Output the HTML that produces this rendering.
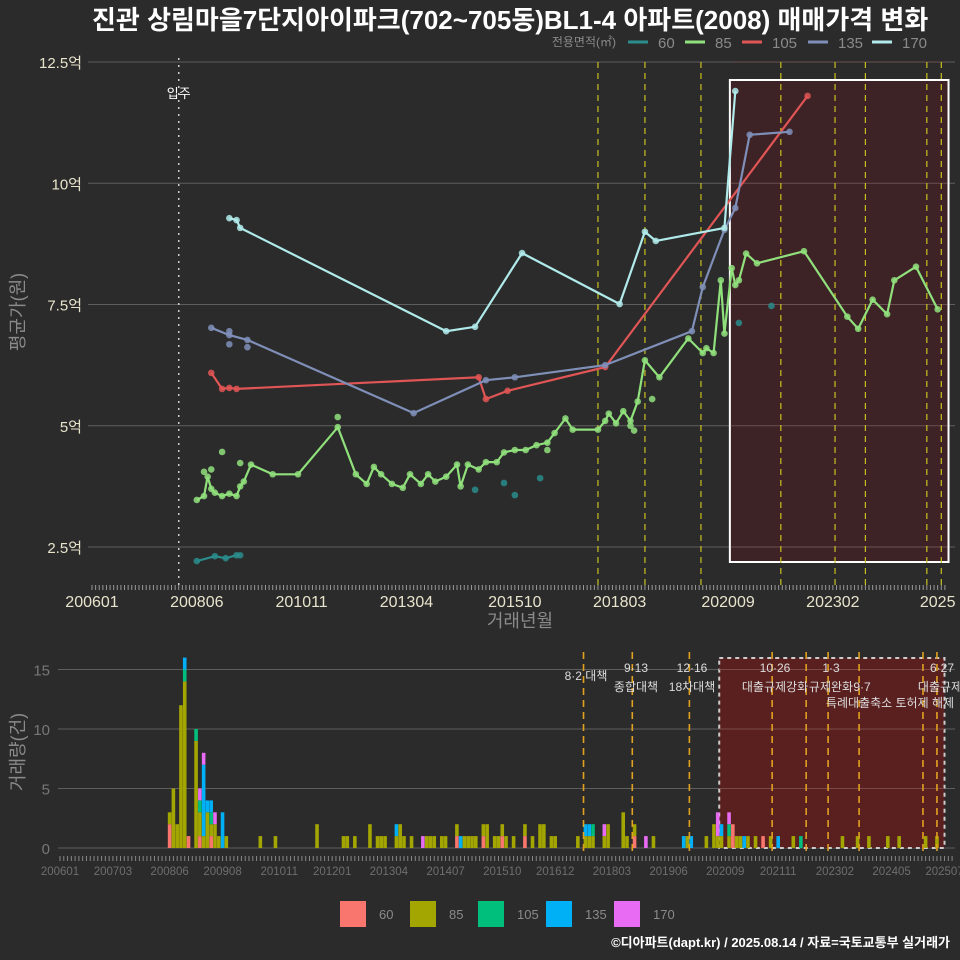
<!DOCTYPE html>
<html><head><meta charset="utf-8">
<style>
html,body{margin:0;padding:0;background:#2b2b2b;}
svg{display:block;font-family:"Liberation Sans","Noto Sans CJK KR",sans-serif;}
</style></head>
<body>
<svg id="chart" width="960" height="960" viewBox="0 0 960 960" xmlns="http://www.w3.org/2000/svg">
<rect x="0" y="0" width="960" height="960" fill="#2b2b2b"/>
<text x="92" y="29" fill="#ffffff" font-size="26" font-weight="bold">진관 상림마을7단지아이파크(702~705동)BL1-4 아파트(2008) 매매가격 변화</text>
<g id="topPanel"></g>
<g id="botPanel"></g>
<text x="950" y="947" fill="#ffffff" font-size="13" font-weight="bold" text-anchor="end">©디아파트(dapt.kr) / 2025.08.14 / 자료=국토교통부 실거래가</text>
</svg>
<script>
// month index = months since 2006-01
const types = ["60","85","105","135","170"];
const lineColors = ["#2a8c8c","#90e07c","#e05555","#7f8fb8","#b0eaea"];
const barColors = ["#F8766D","#A3A500","#00BF7D","#00B0F6","#E76BF3"];
const yTicks = [2.5,5,7.5,10,12.5];
const yTickLabels = ["2.5억","5억","7.5억","10억","12.5억"];
const xTickMonths = [0,29,58,87,117,146,176,205,234];
const xTickLabels = ["200601","200806","201011","201304","201510","201803","202009","202302","2025"];
const bxTickMonths = [0,14,29,43,58,72,87,102,117,131,146,161,176,190,205,220,234];
const bxTickLabels = ["200601","200703","200806","200908","201011","201201","201304","201407","201510","201612","201803","201906","202009","202111","202302","202405","202507"];
const countTicks = [0,5,10,15];
const moveInMonth = 24;
const topEvents = [140,153,168.5,190.6,205.6,214,231,235];
const botEvents = [138.5,151.4,166.5,188.4,197.4,203.2,211.4,228.3,232];
const boxStartTop = 176.5, boxEndTop = 237;
const boxStartBot = 174.4, boxEndBot = 234;
const s60m = [29,34,37,40,41];
const s60v = [2.21,2.31,2.27,2.33,2.33];
const s60xm = [106,114,117,124,179,188];
const s60xv = [3.68,3.82,3.57,3.92,7.12,7.47];
const s85m = [29,31,32,33,34,36,38,40,41,42,44,50,57,68,73,76,78,80,83,86,88,91,93,95,98,101,102,104,107,109,112,114,117,120,123,126,128,131,133,140,142,143,145,147,149,151,153,157,165,169,170,172,174,175,177,178,179,181,184,197,209,212,216,220,222,228,234];
const s85v = [3.47,3.55,3.95,3.70,3.62,3.55,3.60,3.55,3.75,3.85,4.2,4.0,4.0,4.97,4.0,3.8,4.15,4.0,3.8,3.72,4.0,3.8,4.0,3.85,3.95,4.2,3.75,4.2,4.1,4.25,4.25,4.45,4.5,4.5,4.6,4.65,4.85,5.15,4.92,4.92,5.1,5.25,5.05,5.3,5.1,5.5,6.35,6.0,6.8,6.5,6.6,6.5,8.0,6.9,8.25,7.9,8.0,8.55,8.35,8.6,7.25,7.0,7.6,7.3,8.0,8.28,7.4];
const s85xm = [31,33,36,41,68,126,149,150,155];
const s85xv = [4.05,4.1,4.46,4.23,5.18,4.5,5.0,4.9,5.55];
const s105m = [33,36,38,40,107,109,115,142,198];
const s105v = [6.09,5.76,5.78,5.76,6.0,5.55,5.72,6.21,11.8];
const s135m = [33,38,43,89,109,117,142,166,169,175,178,182,193];
const s135v = [7.02,6.87,6.77,5.26,5.94,6.0,6.25,6.95,7.86,9.04,9.49,11.0,11.06];
const s135xm = [38,43,38];
const s135xv = [6.68,6.62,6.95];
const s170m = [38,40,41,98,106,119,146,153,156,175,178];
const s170v = [9.28,9.24,9.08,6.95,7.04,8.56,7.51,9.0,8.81,9.08,11.9];
// bars: month, counts [60,85,105,135,170]
const barMonths = [29,30,31,32,33,34,36,37,38,39,40,41,42,43,44,53,57,68,75,76,78,82,84,85,86,89,90,91,93,96,97,98,99,101,102,105,106,107,108,109,110,112,113,115,116,117,118,120,123,125,127,128,130,131,137,139,140,141,144,145,149,150,152,155,157,165,166,167,171,173,174,175,177,178,179,180,181,182,184,186,188,190,194,196,207,211,214,219,222,229,232];
const barCounts = [[2,1,0,0,0],[0,5,0,0,0],[0,2,0,0,0],[0,12,0,0,0],[0,14,1,1,0],[1,0,0,0,0],[0,9,1,0,0],[1,2,1,0,1],[0,1,0,6,1],[0,3,0,1,0],[1,1,1,1,0],[0,2,0,0,1],[0,1,0,0,0],[0,0,0,3,0],[0,1,0,0,0],[0,1,0,0,0],[0,1,0,0,0],[0,2,0,0,0],[0,1,0,0,0],[0,1,0,0,0],[0,1,0,0,0],[0,2,0,0,0],[0,1,0,0,0],[0,1,0,0,0],[0,1,0,0,0],[0,1,0,1,0],[0,2,0,0,0],[0,1,0,0,0],[0,1,0,0,0],[0,0,0,0,1],[0,1,0,0,0],[0,1,0,0,0],[0,1,0,0,0],[0,1,0,0,0],[0,1,0,0,0],[1,1,0,0,0],[0,0,0,1,0],[0,1,0,0,0],[0,1,0,0,0],[0,1,0,0,0],[0,1,0,0,0],[1,1,0,0,0],[0,2,0,0,0],[0,1,0,0,0],[0,1,0,0,0],[1,1,0,0,0],[0,1,0,0,0],[0,1,0,0,0],[1,1,0,0,0],[0,1,0,0,0],[0,2,0,0,0],[0,2,0,0,0],[0,1,0,0,0],[0,1,0,0,0],[0,1,0,0,0],[0,1,0,1,0],[0,1,0,1,0],[0,1,1,0,0],[0,1,0,0,1],[0,2,0,0,0],[0,3,0,0,0],[0,1,0,0,0],[1,1,0,0,0],[0,0,0,0,1],[0,1,0,0,0],[0,0,0,1,0],[0,1,0,0,0],[0,0,0,1,0],[0,1,0,0,0],[0,2,0,0,0],[0,1,0,0,2],[0,1,0,1,0],[0,1,1,0,1],[2,0,0,0,0],[0,1,0,0,0],[0,1,0,0,0],[0,0,0,1,0],[0,1,0,0,0],[0,1,0,0,0],[1,0,0,0,0],[0,1,0,0,0],[0,0,0,1,0],[0,1,0,0,0],[0,0,1,0,0],[0,1,0,0,0],[0,1,0,0,0],[0,1,0,0,0],[0,1,0,0,0],[0,1,0,0,0],[0,1,0,0,0],[0,1,0,0,0]];

const NS="http://www.w3.org/2000/svg";
function mk(tag,attrs,parent,txt){const e=document.createElementNS(NS,tag);for(const k in attrs)e.setAttribute(k,attrs[k]);if(txt!==undefined)e.textContent=txt;parent.appendChild(e);return e;}
const X=m=>92+m*3.614, Y=v=>62+(12.5-v)*48.5;
const BX=m=>60+m*3.78, BY=c=>848-c*11.9;
const topG=document.getElementById('topPanel'), botG=document.getElementById('botPanel');

yTicks.forEach((v,i)=>{
 let g=mk('line',{x1:88,x2:955,y1:Y(v),y2:Y(v),stroke:'#5e5e5e','stroke-width':1},topG);
 
 
 let t=mk('text',{x:82,y:Y(v)+6,fill:'#e8e4cc','font-size':15,'text-anchor':'end'},topG,yTickLabels[i]);
 
 
});
let bx=mk('rect',{x:X(boxStartTop),y:80,width:X(boxEndTop)-X(boxStartTop),height:482,fill:'#3e2326',stroke:'#ffffff','stroke-width':2},topG);


yTicks.forEach(v=>{let g=mk('line',{x1:X(boxStartTop)+1,x2:X(boxEndTop)-1,y1:Y(v),y2:Y(v),stroke:'#6a5050','stroke-width':1},topG);
 
 });
topEvents.forEach(m=>{let l=mk('line',{x1:X(m),x2:X(m),y1:62,y2:585,stroke:'#c8c020','stroke-width':1.2,'stroke-dasharray':'6,5'},topG);
 
 });
let mi=mk('line',{x1:X(moveInMonth),x2:X(moveInMonth),y1:58,y2:585,stroke:'#cccccc','stroke-width':1.5,'stroke-dasharray':'2,5'},topG);


let mit=mk('text',{x:X(moveInMonth),y:98,fill:'#ffffff','font-size':13,'text-anchor':'middle'},topG,'입주');


function series(ms,vs,ci,name,line){
 if(line){let d=ms.map((m,i)=>(i?'L':'M')+X(m).toFixed(1)+','+Y(vs[i]).toFixed(1)).join('');
  let p=mk('path',{d:d,fill:'none',stroke:lineColors[ci],'stroke-width':2.2},topG);
  
  }
 ms.forEach((m,i)=>{let c=mk('circle',{cx:X(m),cy:Y(vs[i]),r:3.3,fill:lineColors[ci],'fill-opacity':0.85},topG);
  
  });
}
series(s60m,s60v,0,'60',true);series(s60xm,s60xv,0,'60',false);
series(s85m,s85v,1,'85',true);series(s85xm,s85xv,1,'85',false);
series(s105m,s105v,2,'105',true);
series(s135m,s135v,3,'135',true);series(s135xm,s135xv,3,'135',false);
series(s170m,s170v,4,'170',true);
for(let m=0;m<=236;m++){let t=mk('line',{x1:X(m),x2:X(m),y1:585,y2:590,stroke:'#999','stroke-width':1},topG);
 
 }
xTickMonths.forEach((m,i)=>{let t=mk('text',{x:X(m),y:607,fill:'#e8e4cc','font-size':16,'text-anchor':'middle'},topG,xTickLabels[i]);
 
 });
let xt=mk('text',{x:520,y:627,fill:'#8a8a8a','font-size':18,'text-anchor':'middle'},topG,'거래년월');


let yt=mk('text',{x:0,y:0,fill:'#8a8a8a','font-size':18,'text-anchor':'middle',transform:'translate(24,312) rotate(-90)'},topG,'평균가(원)');


let lt=mk('text',{x:616,y:46,fill:'#8a8a8a','font-size':12,'text-anchor':'end'},topG,'전용면적(㎡)');


const legX=[628,685,742,808,872];
types.forEach((t,i)=>{
 let g=mk('g',{},topG);
 
 
 mk('line',{x1:legX[i],x2:legX[i]+20,y1:42,y2:42,stroke:lineColors[i],'stroke-width':3},g);
 mk('text',{x:legX[i]+30,y:48,fill:'#8a8a8a','font-size':15},g,t);
});

countTicks.forEach(c=>{
 let g=mk('line',{x1:58,x2:955,y1:BY(c),y2:BY(c),stroke:'#5e5e5e','stroke-width':1},botG);
 
 
 let t=mk('text',{x:50,y:BY(c)+6,fill:'#777','font-size':15,'text-anchor':'end'},botG,String(c));
 
 
});
let bb=mk('rect',{x:BX(boxStartBot),y:658,width:BX(boxEndBot)-BX(boxStartBot),height:190,fill:'#5a2020',stroke:'#cccccc','stroke-width':2,'stroke-dasharray':'4,4'},botG);


[5,10,15].forEach(c=>{let g=mk('line',{x1:BX(boxStartBot),x2:BX(boxEndBot),y1:BY(c),y2:BY(c),stroke:'#7a4a4a','stroke-width':1},botG);
 
 });
barMonths.forEach((m,i)=>{
 let acc=0;
 barCounts[i].forEach((c,k)=>{ if(!c)return;
  let r=mk('rect',{x:BX(m)-1.8,y:BY(acc+c),width:3.6,height:c*11.9,fill:barColors[k]},botG);
  
  
  acc+=c;});
});
botEvents.forEach(m=>{let l=mk('line',{x1:BX(m),x2:BX(m),y1:652,y2:855,stroke:'#e0a020','stroke-width':1.6,'stroke-dasharray':'7,5'},botG);
 
 });
const evLabels=[[586,680,'8·2 대책'],[636,672,'9·13'],[636,691,'종합대책'],[692,672,'12·16'],[692,691,'18차대책'],[775,672,'10·26'],[775,691,'대출규제강화'],[831,672,'1·3'],[831,691,'규제완화'],[862,691,'9·7'],[890,707,'특례대출축소 토허제 해제'],[942,672,'6·27'],[940,691,'대출규제']];
evLabels.forEach(e=>{let t=mk('text',{x:e[0],y:e[1],fill:'#dddddd','font-size':12,'text-anchor':'middle'},botG,e[2]);
 
 });
for(let m=0;m<=236;m++){let t=mk('line',{x1:BX(m),x2:BX(m),y1:856,y2:861,stroke:'#888','stroke-width':1},botG);
 
 }
bxTickMonths.forEach((m,i)=>{let t=mk('text',{x:BX(m),y:875,fill:'#6e6e6e','font-size':11.5,'text-anchor':'middle'},botG,bxTickLabels[i]);
 
 });
let yt2=mk('text',{x:0,y:0,fill:'#8a8a8a','font-size':18,'text-anchor':'middle',transform:'translate(24,752) rotate(-90)'},botG,'거래량(건)');


const bLegX=[340,410,478,546,614];
types.forEach((t,i)=>{
 let g=mk('g',{},botG);
 
 
 mk('rect',{x:bLegX[i],y:901,width:26,height:26,fill:barColors[i]},g);
 mk('text',{x:bLegX[i]+39,y:919,fill:'#8a8a8a','font-size':13},g,t);
});
</script>
</body></html>
